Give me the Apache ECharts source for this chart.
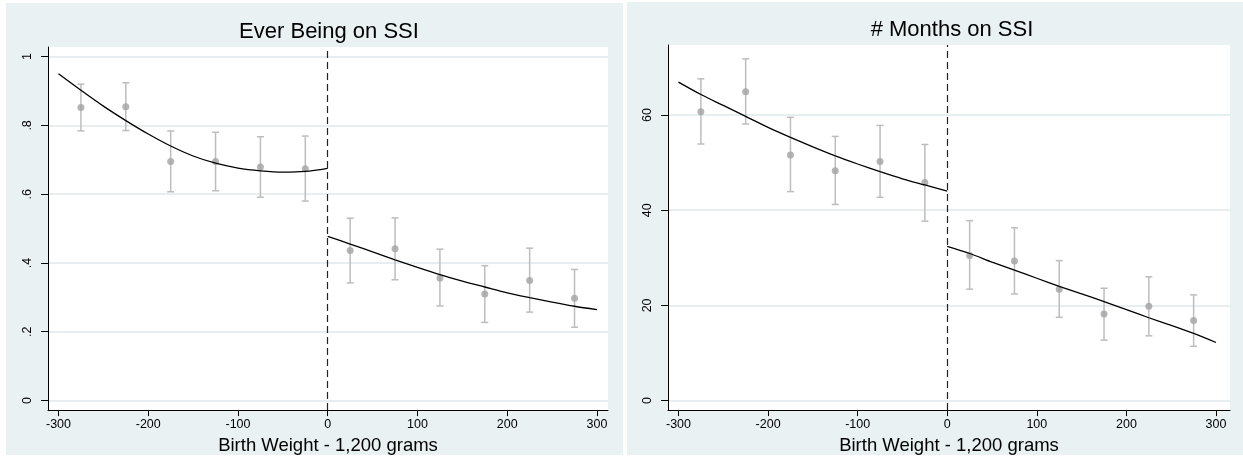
<!DOCTYPE html>
<html>
<head>
<meta charset="utf-8">
<title>SSI at 1,200 grams</title>
<script src="https://cdn.jsdelivr.net/npm/echarts@6/dist/echarts.min.js"></script>
<style>
  html, body { margin: 0; padding: 0; background: #fff; }
  #chart { width: 1243px; height: 460px; }
</style>
</head>
<body>
<div id="chart"></div>
<script>
// bin midpoints (birth weight - 1,200 g)
const binX = [-275, -225, -175, -125, -75, -25, 25, 75, 125, 175, 225, 275]

// Ever being on SSI: bin means and 95% CI
const everMean = [0.852, 0.854, 0.695, 0.695, 0.679, 0.674, 0.436, 0.441, 0.356, 0.310, 0.349, 0.297]
const everLo = [0.784, 0.785, 0.607, 0.610, 0.591, 0.580, 0.342, 0.351, 0.275, 0.227, 0.257, 0.213]
const everHi = [0.920, 0.924, 0.784, 0.780, 0.767, 0.769, 0.530, 0.531, 0.440, 0.392, 0.443, 0.381]

// # months on SSI
const monthsMean = [60.7, 64.9, 51.6, 48.3, 50.2, 45.8, 30.5, 29.3, 23.4, 18.2, 19.8, 16.8]
const monthsLo = [53.9, 58.1, 43.9, 41.2, 42.7, 37.7, 23.4, 22.4, 17.5, 12.7, 13.6, 11.4]
const monthsHi = [67.6, 71.8, 59.5, 55.5, 57.8, 53.8, 37.8, 36.3, 29.4, 23.6, 26.0, 22.2]

const fitXLeft = [-300, -275, -250, -225, -200, -175, -150, -125, -100, -75, -50, -25, 0]
const fitXRight = [0, 25, 50, 75, 100, 125, 150, 175, 200, 225, 250, 275, 300]
const everFitLeft = [0.950, 0.902, 0.856, 0.814, 0.775, 0.740, 0.711, 0.690, 0.676, 0.668, 0.664, 0.666, 0.675]
const everFitRight = [0.477, 0.455, 0.432, 0.409, 0.387, 0.366, 0.347, 0.330, 0.313, 0.299, 0.286, 0.274, 0.264]
const monthsFitLeft = [66.9, 64.3, 62.0, 59.7, 57.4, 55.3, 53.3, 51.4, 49.7, 48.1, 46.6, 45.3, 44.0]
const monthsFitRight = [32.4, 30.9, 29.1, 27.4, 25.7, 24.0, 22.4, 20.8, 19.1, 17.4, 15.8, 14.1, 12.2]

// tick values and labels
const xTicks = [-300, -200, -100, 0, 100, 200, 300]
const everTicks = [0, 0.2, 0.4, 0.6, 0.8, 1]
const everTickLabels = ['0', '.2', '.4', '.6', '.8', '1']
const monthsTicks = [0, 20, 40, 60]
const monthsTickLabels = ['0', '20', '40', '60']

const titles = ['Ever Being on SSI', '# Months on SSI']
const xName = 'Birth Weight - 1,200 grams'

const FONT = '"Liberation Sans", Arial, sans-serif'
const PANEL_BG = '#e9f1f3'

function zip(xs, ys) {
  return xs.map((x, i) => [x, ys[i]])
}

function labelFor(ticks, labels) {
  return function (v) {
    const i = ticks.findIndex(t => Math.abs(t - v) < 1e-9)
    return i >= 0 ? labels[i] : ''
  }
}

function xAxisOpt(idx, min, max) {
  return {
    type: 'value',
    gridIndex: idx,
    min: min,
    max: max,
    name: xName,
    nameLocation: 'middle',
    nameGap: 24,
    nameTextStyle: { fontFamily: FONT, fontSize: 18.5, color: '#000' },
    axisLine: { show: true, onZero: false, lineStyle: { color: '#000', width: 1 } },
    axisTick: { show: true, length: 6, customValues: xTicks, lineStyle: { color: '#000' } },
    axisLabel: { customValues: xTicks, margin: 8, fontFamily: FONT, fontSize: 12.5, color: '#000' },
    splitLine: { show: false }
  }
}

function yAxisOpt(idx, min, max, ticks, labels) {
  return {
    type: 'value',
    gridIndex: idx,
    min: min,
    max: max,
    axisLine: { show: true, onZero: false, lineStyle: { color: '#000', width: 1 } },
    axisTick: { show: true, length: 7, customValues: ticks, lineStyle: { color: '#000' } },
    axisLabel: {
      customValues: ticks,
      rotate: 90,
      margin: 14,
      fontFamily: FONT,
      fontSize: 12.5,
      color: '#000',
      formatter: labelFor(ticks, labels)
    },
    splitLine: { show: true, lineStyle: { color: '#e6eef0', width: 2 } }
  }
}

function errorBars(idx, lo, hi) {
  return {
    type: 'custom',
    xAxisIndex: idx,
    yAxisIndex: idx,
    silent: true,
    z: 2,
    data: binX.map((x, i) => [x, lo[i], hi[i]]),
    renderItem: function (params, api) {
      const x = api.value(0)
      const a = api.coord([x, api.value(1)])
      const b = api.coord([x, api.value(2)])
      const w = 3.5
      const style = { stroke: '#bdbdbd', lineWidth: 1.5 }
      return {
        type: 'group',
        children: [
          { type: 'line', shape: { x1: a[0], y1: a[1], x2: b[0], y2: b[1] }, style: style },
          { type: 'line', shape: { x1: a[0] - w, y1: a[1], x2: a[0] + w, y2: a[1] }, style: style },
          { type: 'line', shape: { x1: b[0] - w, y1: b[1], x2: b[0] + w, y2: b[1] }, style: style }
        ]
      }
    }
  }
}

function points(idx, mean) {
  return {
    type: 'scatter',
    xAxisIndex: idx,
    yAxisIndex: idx,
    symbolSize: 7,
    z: 3,
    itemStyle: { color: '#a3a3a3' },
    data: zip(binX, mean)
  }
}

function fitLine(idx, xs, ys, withCutoff) {
  const s = {
    type: 'line',
    xAxisIndex: idx,
    yAxisIndex: idx,
    smooth: 0.3,
    showSymbol: false,
    z: 4,
    lineStyle: { color: '#000', width: 1.3 },
    data: zip(xs, ys)
  }
  if (withCutoff) {
    s.markLine = {
      silent: true,
      symbol: 'none',
      label: { show: false },
      lineStyle: { color: '#222', width: 1.2, type: [7, 4] },
      data: [{ xAxis: 0 }]
    }
  }
  return s
}

const chart = echarts.init(document.getElementById('chart'), null, { renderer: 'canvas' })

const option = {
  animation: false,
  backgroundColor: '#fff',
  graphic: [
    { type: 'rect', z: -10, shape: { x: 6, y: 3, width: 617, height: 452 }, style: { fill: PANEL_BG } },
    { type: 'rect', z: -10, shape: { x: 627, y: 2, width: 616, height: 453 }, style: { fill: PANEL_BG } }
  ],
  title: [
    { text: titles[0], left: 324, top: 16, textAlign: 'center', textStyle: { fontFamily: FONT, fontSize: 22, fontWeight: 'normal', color: '#000' } },
    { text: titles[1], left: 947, top: 14, textAlign: 'center', textStyle: { fontFamily: FONT, fontSize: 22, fontWeight: 'normal', color: '#000' } }
  ],
  grid: [
    { left: 48, top: 47, width: 560, height: 365, show: true, backgroundColor: '#fff', borderWidth: 0 },
    { left: 668, top: 45, width: 562, height: 366, show: true, backgroundColor: '#fff', borderWidth: 0 }
  ],
  xAxis: [
    xAxisOpt(0, -311.7, 312.3),
    xAxisOpt(1, -311.7, 315.6)
  ],
  yAxis: [
    yAxisOpt(0, -0.028, 1.028, everTicks, everTickLabels),
    yAxisOpt(1, -2.0, 74.7, monthsTicks, monthsTickLabels)
  ],
  series: [
    errorBars(0, everLo, everHi),
    points(0, everMean),
    fitLine(0, fitXLeft, everFitLeft, true),
    fitLine(0, fitXRight, everFitRight, false),

    errorBars(1, monthsLo, monthsHi),
    points(1, monthsMean),
    fitLine(1, fitXLeft, monthsFitLeft, true),
    fitLine(1, fitXRight, monthsFitRight, false)
  ]
}

chart.setOption(option)
</script>
</body>
</html>
